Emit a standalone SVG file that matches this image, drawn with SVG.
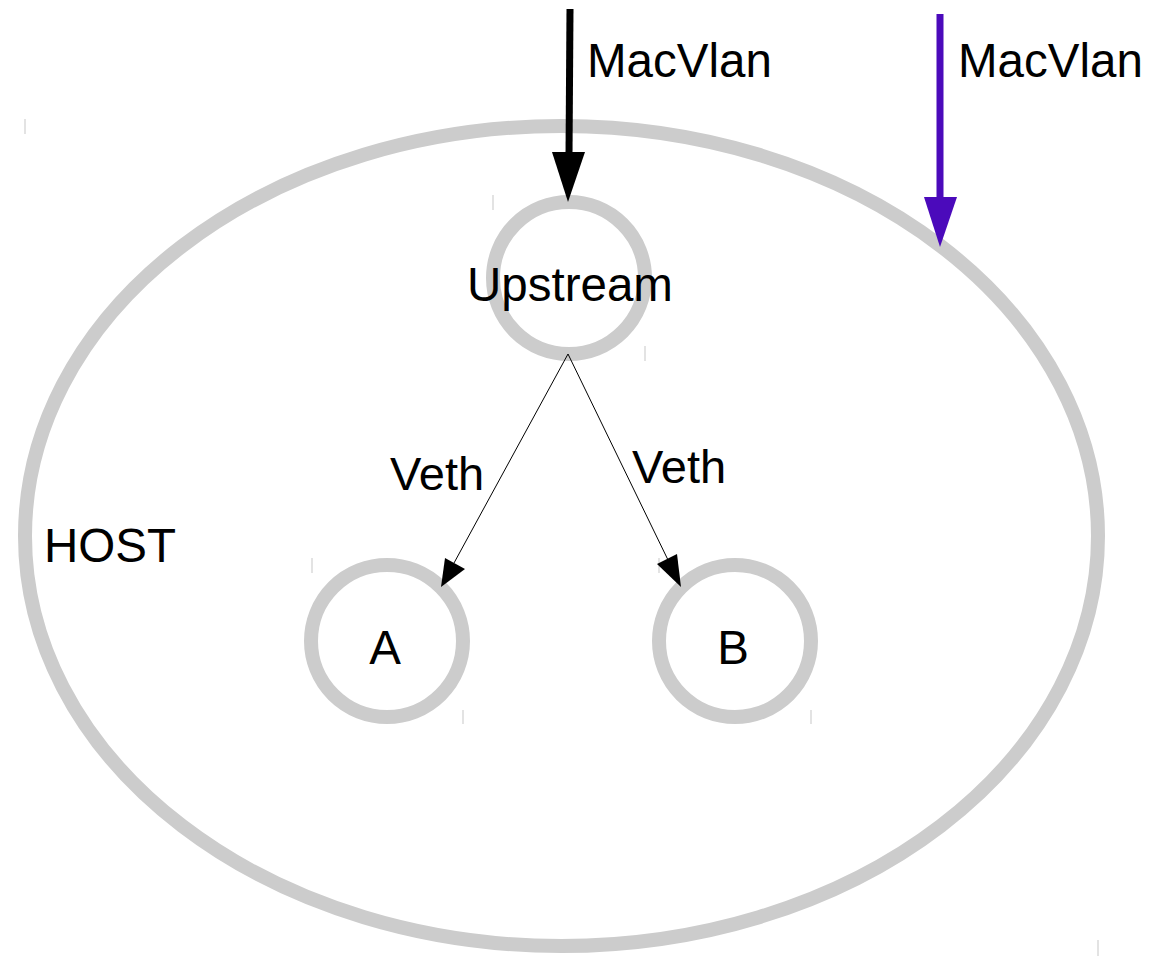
<svg xmlns="http://www.w3.org/2000/svg" width="1150" height="956" viewBox="0 0 1150 956">
  <style>
    .ring { fill: none; stroke: #cccccc; stroke-width: 14; }
    .tick { stroke: #d0d0d0; stroke-width: 1.2; }
    .label { font-family: "Liberation Sans", Arial, sans-serif; font-size: 47.5px; fill: #000; }
    .veth-label { font-size: 47px; }
    .veth { stroke: #000; stroke-width: 1; fill: none; }
  </style>
  <rect width="1150" height="956" fill="#ffffff"/>

  <!-- host boundary -->
  <g id="host">
    <ellipse class="ring" cx="561.5" cy="536" rx="536.5" ry="410"/>
    <line class="tick" x1="25" y1="119" x2="25" y2="134"/>
    <line class="tick" x1="1098" y1="940" x2="1098" y2="956"/>
    <text class="label" x="44" y="562">HOST</text>
  </g>

  <!-- upstream interface -->
  <g id="upstream">
    <circle class="ring" cx="569" cy="278" r="76"/>
    <line class="tick" x1="493" y1="195" x2="493" y2="210"/>
    <line class="tick" x1="645" y1="346" x2="645" y2="361"/>
    <text class="label" x="570" y="301" text-anchor="middle">Upstream</text>
  </g>

  <!-- container A -->
  <g id="node-a">
    <circle class="ring" cx="387" cy="641" r="76"/>
    <line class="tick" x1="312" y1="558" x2="312" y2="573"/>
    <line class="tick" x1="463" y1="710" x2="463" y2="724"/>
    <text class="label" x="385" y="664" text-anchor="middle">A</text>
  </g>

  <!-- container B -->
  <g id="node-b">
    <circle class="ring" cx="735" cy="641" r="76"/>
    <line class="tick" x1="659" y1="558" x2="659" y2="573"/>
    <line class="tick" x1="811" y1="710" x2="811" y2="724"/>
    <text class="label" x="733" y="664" text-anchor="middle">B</text>
  </g>

  <!-- links -->
  <g id="connectors">
    <!-- macvlan into upstream -->
    <line x1="570" y1="9" x2="569" y2="155" stroke="#000" stroke-width="7"/>
    <polygon points="552,152 585,152 568,202" fill="#000"/>
    <text class="label" x="587" y="77">MacVlan</text>

    <!-- macvlan onto host -->
    <line x1="940" y1="14" x2="940" y2="200" stroke="#4b0abb" stroke-width="7"/>
    <polygon points="924,197 957,197 940,247" fill="#4b0abb"/>
    <text class="label" x="958" y="77">MacVlan</text>

    <!-- veth pairs -->
    <line class="veth" x1="568" y1="354" x2="454" y2="563"/>
    <polygon points="441,587 445,558 465,569" fill="#000"/>
    <text class="label veth-label" x="390" y="490">Veth</text>

    <line class="veth" x1="568" y1="354" x2="669" y2="562"/>
    <polygon points="681,587 657,564 677,554" fill="#000"/>
    <text class="label veth-label" x="632" y="483">Veth</text>
  </g>
</svg>
